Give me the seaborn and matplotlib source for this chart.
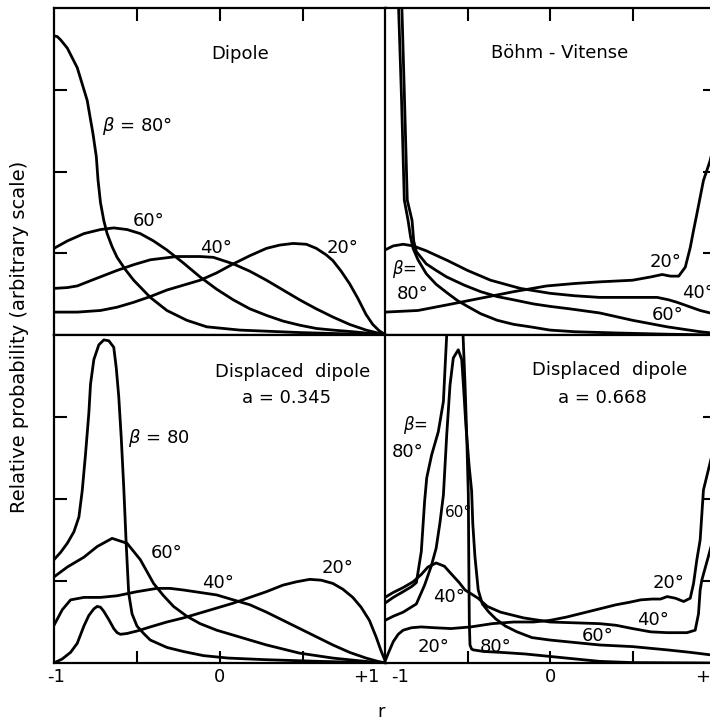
import matplotlib
matplotlib.use("Agg")
import matplotlib.pyplot as plt
import pandas as pd
import seaborn as sns

# ---------------- Dipole ----------------
DIP_R80 = [-1, -0.98, -0.96, -0.92, -0.86, -0.80, -0.765, -0.745, -0.735, -0.72, -0.70, -0.68, -0.65, -0.62, -0.57, -0.52, -0.42, -0.32, -0.20, -0.08, 0.12, 0.48, 1.0]
DIP_P80 = [3.66, 3.65, 3.61, 3.51, 3.27, 2.87, 2.46, 2.18, 1.90, 1.62, 1.40, 1.24, 1.08, 0.95, 0.80, 0.67, 0.46, 0.30, 0.18, 0.10, 0.06, 0.03, 0.0]
DIP_R60 = [-1, -0.92, -0.82, -0.72, -0.64, -0.56, -0.48, -0.40, -0.32, -0.22, -0.12, -0.02, 0.08, 0.18, 0.28, 0.38, 0.48, 0.58, 0.68, 0.80, 0.90, 1.0]
DIP_P60 = [1.06, 1.15, 1.24, 1.29, 1.31, 1.29, 1.24, 1.15, 1.04, 0.88, 0.71, 0.56, 0.43, 0.32, 0.24, 0.17, 0.12, 0.08, 0.06, 0.04, 0.02, 0.0]
DIP_R40 = [-1, -0.92, -0.86, -0.76, -0.62, -0.52, -0.42, -0.26, -0.12, -0.04, 0.08, 0.18, 0.28, 0.38, 0.48, 0.58, 0.68, 0.78, 0.88, 0.95, 1.0]
DIP_P40 = [0.57, 0.58, 0.60, 0.68, 0.79, 0.86, 0.92, 0.96, 0.96, 0.95, 0.87, 0.78, 0.67, 0.55, 0.43, 0.32, 0.22, 0.13, 0.06, 0.025, 0.0]
DIP_R20 = [-1, -0.86, -0.72, -0.62, -0.52, -0.42, -0.32, -0.22, -0.12, -0.02, 0.08, 0.18, 0.28, 0.36, 0.44, 0.52, 0.58, 0.64, 0.68, 0.73, 0.78, 0.83, 0.88, 0.92, 0.96, 1.0]
DIP_P20 = [0.28, 0.28, 0.30, 0.34, 0.40, 0.47, 0.55, 0.61, 0.67, 0.76, 0.87, 0.97, 1.06, 1.10, 1.12, 1.11, 1.06, 0.98, 0.91, 0.78, 0.63, 0.45, 0.25, 0.13, 0.05, 0.0]

# ---------------- Böhm-Vitense ----------------
BV_R80 = [-0.93, -0.917, -0.90, -0.883, -0.86, -0.845, -0.83, -0.80, -0.75, -0.69, -0.62, -0.56, -0.50, -0.42, -0.32, -0.22, -0.12, 0.0, 0.15, 0.4, 0.7, 1.0]
BV_P80 = [4.8, 3.96, 2.9, 1.65, 1.40, 1.20, 1.06, 0.92, 0.75, 0.62, 0.51, 0.42, 0.35, 0.26, 0.18, 0.13, 0.10, 0.06, 0.04, 0.025, 0.01, 0.0]
BV_R60 = [-0.91, -0.897, -0.882, -0.865, -0.836, -0.826, -0.81, -0.75, -0.69, -0.626, -0.52, -0.42, -0.32, -0.22, -0.10, 0.0, 0.12, 0.30, 0.50, 0.71, 0.91, 1.0]
BV_P60 = [4.8, 3.96, 2.9, 1.65, 1.40, 1.15, 1.02, 0.87, 0.79, 0.71, 0.61, 0.53, 0.47, 0.43, 0.38, 0.35, 0.32, 0.27, 0.18, 0.10, 0.04, 0.02]
BV_R40 = [-1, -0.95, -0.89, -0.83, -0.75, -0.62, -0.50, -0.36, -0.18, 0.0, 0.15, 0.30, 0.50, 0.65, 0.72, 0.77, 0.84, 0.91, 0.97, 1.0]
BV_P40 = [1.04, 1.09, 1.11, 1.09, 1.03, 0.91, 0.79, 0.67, 0.57, 0.51, 0.48, 0.46, 0.46, 0.46, 0.43, 0.40, 0.35, 0.30, 0.27, 0.27]
BV_R20 = [-1, -0.8, -0.62, -0.42, -0.22, -0.02, 0.15, 0.30, 0.50, 0.61, 0.68, 0.73, 0.78, 0.82, 0.85, 0.87, 0.89, 0.93, 0.97, 1.0]
BV_P20 = [0.28, 0.30, 0.37, 0.45, 0.53, 0.60, 0.63, 0.65, 0.67, 0.71, 0.74, 0.72, 0.72, 0.83, 1.07, 1.28, 1.48, 1.89, 2.13, 2.4]

# ---------------- Displaced dipole, a = 0.345 ----------------
D1_R80 = [-1, -0.96, -0.92, -0.88, -0.85, -0.83, -0.81, -0.79, -0.78, -0.76, -0.73, -0.70, -0.67, -0.64, -0.625, -0.61, -0.595, -0.58, -0.565, -0.55, -0.53, -0.50, -0.46, -0.42, -0.32, -0.22, -0.10, 0.05, 0.28, 0.6, 1.0]
D1_P80 = [1.26, 1.35, 1.46, 1.60, 1.78, 2.10, 2.55, 3.05, 3.40, 3.70, 3.88, 3.94, 3.93, 3.85, 3.60, 3.25, 2.75, 2.15, 1.45, 0.85, 0.60, 0.45, 0.36, 0.28, 0.19, 0.14, 0.09, 0.06, 0.04, 0.02, 0.0]
D1_R60 = [-1, -0.92, -0.82, -0.74, -0.65, -0.56, -0.48, -0.40, -0.34, -0.28, -0.20, -0.12, -0.02, 0.08, 0.18, 0.28, 0.38, 0.48, 0.58, 0.68, 0.80, 0.90, 1.0]
D1_P60 = [1.05, 1.17, 1.29, 1.42, 1.52, 1.46, 1.26, 0.97, 0.82, 0.69, 0.57, 0.48, 0.40, 0.34, 0.28, 0.22, 0.17, 0.12, 0.09, 0.06, 0.035, 0.015, 0.0]
D1_R40 = [-1, -0.95, -0.90, -0.82, -0.72, -0.62, -0.50, -0.38, -0.30, -0.22, -0.12, -0.02, 0.08, 0.18, 0.28, 0.38, 0.48, 0.58, 0.68, 0.78, 0.88, 0.95, 1.0]
D1_P40 = [0.46, 0.65, 0.77, 0.80, 0.80, 0.82, 0.87, 0.91, 0.91, 0.89, 0.86, 0.83, 0.77, 0.71, 0.62, 0.52, 0.42, 0.32, 0.22, 0.13, 0.06, 0.02, 0.0]
D1_R20 = [-1, -0.95, -0.90, -0.86, -0.82, -0.79, -0.76, -0.74, -0.72, -0.70, -0.67, -0.64, -0.62, -0.60, -0.56, -0.50, -0.42, -0.32, -0.22, -0.12, -0.02, 0.08, 0.18, 0.28, 0.38, 0.46, 0.54, 0.61, 0.68, 0.74, 0.80, 0.85, 0.90, 0.94, 0.97, 1.0]
D1_P20 = [0.0, 0.05, 0.13, 0.24, 0.45, 0.58, 0.66, 0.69, 0.68, 0.63, 0.53, 0.42, 0.37, 0.35, 0.36, 0.39, 0.44, 0.50, 0.55, 0.61, 0.67, 0.73, 0.80, 0.87, 0.95, 0.99, 1.02, 1.01, 0.97, 0.90, 0.80, 0.68, 0.52, 0.32, 0.15, 0.0]

# ---------------- Displaced dipole, a = 0.668 ----------------
D2_R80 = [-1, -0.95, -0.89, -0.84, -0.81, -0.78, -0.76, -0.747, -0.717, -0.677, -0.646, -0.636, -0.626, -0.61, -0.59, -0.565, -0.545, -0.527, -0.515, -0.505, -0.495, -0.492, -0.489, -0.485, -0.475, -0.465, -0.40, -0.30, -0.15, -0.10, 0.1, 0.3, 0.5, 1.0]
D2_P80 = [0.73, 0.80, 0.87, 0.93, 0.98, 1.36, 1.97, 2.26, 2.54, 2.82, 3.19, 3.60, 4.0, 4.5, 4.9, 5.0, 4.8, 4.0, 3.4, 2.8, 2.05, 1.2, 0.5, 0.22, 0.17, 0.16, 0.14, 0.13, 0.11, 0.10, 0.06, 0.02, 0.005, 0.0]
D2_R60 = [-1, -0.95, -0.89, -0.81, -0.76, -0.72, -0.69, -0.667, -0.646, -0.626, -0.606, -0.586, -0.556, -0.535, -0.522, -0.51, -0.49, -0.475, -0.468, -0.455, -0.435, -0.41, -0.37, -0.33, -0.27, -0.20, -0.11, 0.0, 0.1, 0.3, 0.5, 0.71, 0.85, 0.97, 1.0]
D2_P60 = [0.52, 0.57, 0.62, 0.72, 0.95, 1.18, 1.40, 1.71, 2.05, 2.78, 3.39, 3.72, 3.82, 3.70, 3.30, 2.90, 2.40, 2.10, 1.70, 1.30, 0.89, 0.72, 0.62, 0.54, 0.45, 0.38, 0.31, 0.28, 0.26, 0.22, 0.20, 0.16, 0.13, 0.10, 0.09]
D2_R40 = [-1, -0.95, -0.89, -0.83, -0.78, -0.74, -0.69, -0.64, -0.60, -0.55, -0.515, -0.475, -0.436, -0.38, -0.30, -0.16, 0.0, 0.15, 0.30, 0.40, 0.50, 0.61, 0.71, 0.83, 0.88, 0.90, 0.91, 0.92, 0.96, 1.0]
D2_P40 = [0.80, 0.86, 0.92, 0.99, 1.08, 1.17, 1.22, 1.18, 1.09, 0.98, 0.89, 0.84, 0.79, 0.69, 0.62, 0.55, 0.50, 0.49, 0.48, 0.46, 0.42, 0.38, 0.37, 0.37, 0.40, 0.60, 0.89, 1.01, 1.3, 1.6]
D2_R20 = [-1, -0.98, -0.95, -0.92, -0.89, -0.84, -0.78, -0.70, -0.60, -0.48, -0.35, -0.22, -0.10, 0.0, 0.10, 0.20, 0.30, 0.40, 0.48, 0.55, 0.62, 0.67, 0.71, 0.76, 0.81, 0.85, 0.87, 0.89, 0.91, 0.93, 0.97, 1.0]
D2_P20 = [0.02, 0.12, 0.26, 0.35, 0.40, 0.43, 0.44, 0.43, 0.42, 0.44, 0.48, 0.50, 0.50, 0.52, 0.56, 0.61, 0.66, 0.71, 0.74, 0.77, 0.78, 0.78, 0.81, 0.79, 0.75, 0.79, 0.97, 1.26, 1.50, 2.11, 2.44, 2.7]

ANGLES = [80, 60, 40, 20]
Y_TICKS = [1, 2, 3]
X_TICKS = [-0.5, 0, 0.5]


def frame(curves):
    parts = [pd.DataFrame({"r": r, "p": p, "beta": b}) for b, (r, p) in zip(ANGLES, curves)]
    return pd.concat(parts, ignore_index=True)


dipole = frame([(DIP_R80, DIP_P80), (DIP_R60, DIP_P60), (DIP_R40, DIP_P40), (DIP_R20, DIP_P20)])
bohm = frame([(BV_R80, BV_P80), (BV_R60, BV_P60), (BV_R40, BV_P40), (BV_R20, BV_P20)])
disp1 = frame([(D1_R80, D1_P80), (D1_R60, D1_P60), (D1_R40, D1_P40), (D1_R20, D1_P20)])
disp2 = frame([(D2_R80, D2_P80), (D2_R60, D2_P60), (D2_R40, D2_P40), (D2_R20, D2_P20)])

sns.set_style("white")
plt.rcParams["font.family"] = ["DejaVu Sans"]
plt.rcParams["mathtext.fontset"] = "dejavusans"
plt.rcParams["text.color"] = "black"
plt.rcParams["axes.labelcolor"] = "black"

W, H = 710, 723
fig = plt.figure(figsize=(W / 100, H / 100), dpi=100)


def box(x0, x1, y0, y1):
    return [x0 / W, 1 - y1 / H, (x1 - x0) / W, (y1 - y0) / H]


ax_tl = fig.add_axes(box(54, 386, 8, 335))
ax_tr = fig.add_axes(box(385, 715, 8, 335))
ax_bl = fig.add_axes(box(54, 386, 335, 663))
ax_br = fig.add_axes(box(385, 715, 335, 663))

FS = 13


def panel(ax, df, left, top):
    sns.lineplot(data=df, x="r", y="p", units="beta", estimator=None, sort=False,
                 color="black", linewidth=2.0, legend=False, ax=ax,
                 solid_joinstyle="round", solid_capstyle="round")
    ax.set_xlim(-1, 1)
    ax.set_ylim(0, 4)
    ax.set_xlabel("")
    ax.set_ylabel("")
    ax.set_xticks(X_TICKS)
    ax.set_yticks(Y_TICKS)
    for s in ax.spines.values():
        s.set_visible(True)
        s.set_linewidth(1.6)
        s.set_color("black")
    ax.tick_params(direction="in", length=9, width=1.5, color="black",
                   left=left, right=not left, top=top, bottom=not top,
                   labelleft=False, labelright=False, labeltop=False, labelbottom=False)
    ax.set_facecolor("white")


panel(ax_tl, dipole, left=True, top=True)
panel(ax_tr, bohm, left=False, top=True)
panel(ax_bl, disp1, left=True, top=False)
panel(ax_br, disp2, left=False, top=False)


def label(ax, x, y, s, size=FS, ha="left"):
    ax.text(x, y, s, ha=ha, va="center", fontsize=size, color="black")


# panel titles
label(ax_tl, 0.12, 3.44, "Dipole", ha="center")
label(ax_tr, 0.06, 3.45, "Böhm - Vitense", ha="center")
label(ax_bl, 0.44, 3.55, "Displaced  dipole", ha="center")
label(ax_bl, 0.40, 3.23, "a = 0.345", ha="center")
label(ax_br, 0.364, 3.57, "Displaced  dipole", ha="center")
label(ax_br, 0.315, 3.23, "a = 0.668", ha="center")

# curve labels
label(ax_tl, -0.71, 2.56, r"$\beta$ = 80°")
label(ax_tl, -0.524, 1.40, "60°")
label(ax_tl, -0.12, 1.07, "40°")
label(ax_tl, 0.645, 1.07, "20°")

label(ax_tr, -0.955, 0.81, r"$\beta$=", size=FS - 1)
label(ax_tr, -0.93, 0.50, "80°")
label(ax_tr, 0.606, 0.89, "20°")
label(ax_tr, 0.80, 0.51, "40°")
label(ax_tr, 0.618, 0.24, "60°")

label(ax_bl, -0.554, 2.74, r"$\beta$ = 80")
label(ax_bl, -0.42, 1.34, "60°")
label(ax_bl, -0.11, 0.98, "40°")
label(ax_bl, 0.61, 1.16, "20°")

label(ax_br, -0.89, 2.90, r"$\beta$=", size=FS - 1)
label(ax_br, -0.958, 2.57, "80°")
label(ax_br, -0.636, 1.84, "60°", size=FS - 2)
label(ax_br, -0.709, 0.80, "40°")
label(ax_br, -0.80, 0.195, "20°")
label(ax_br, -0.424, 0.195, "80°")
label(ax_br, 0.194, 0.33, "60°")
label(ax_br, 0.527, 0.52, "40°")
label(ax_br, 0.624, 0.98, "20°")

# r-axis numbers under the lower panels
for ax, items in ((ax_bl, [(-0.99, "-1"), (0.0, "0"), (0.88, "+1")]),
                  (ax_br, [(-0.91, "-1"), (0.0, "0"), (0.96, "+1")])):
    for x, s in items:
        ax.text(x, -0.043, s, transform=ax.get_xaxis_transform(),
                ha="center", va="center", fontsize=FS, color="black")

fig.text(381 / W, 1 - 712 / H, "r", ha="center", va="center", fontsize=FS, color="black")
fig.text(20 / W, 1 - 337 / H, "Relative probability (arbitrary scale)",
         rotation=90, ha="center", va="center", fontsize=14, color="black")

fig.savefig("out.png", dpi=100, facecolor="white")
